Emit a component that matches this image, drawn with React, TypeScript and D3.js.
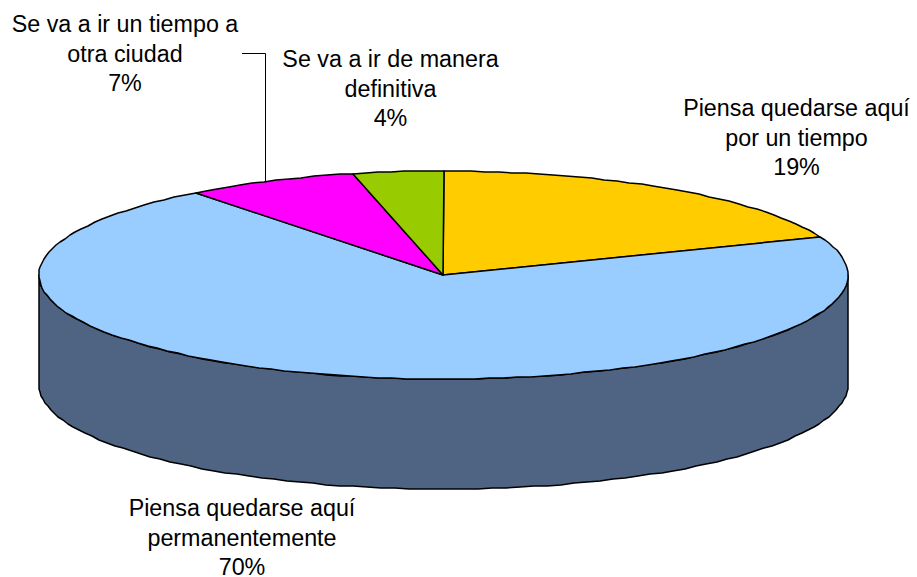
import React from "react";
import * as d3 from "d3";

const categories = [
  "Piensa quedarse aquí por un tiempo",
  "Piensa quedarse aquí permanentemente",
  "Se va a ir un tiempo a otra ciudad",
  "Se va a ir de manera definitiva",
];
const values = [19, 70.5, 6.9, 3.6];
const colors = ["#FFCC00", "#99CCFF", "#FF00FF", "#99CC00"];
const labelLines = [
  ["Piensa quedarse aquí", "por un tiempo", "19%"],
  ["Piensa quedarse aquí", "permanentemente", "70%"],
  ["Se va a ir un tiempo a", "otra ciudad", "7%"],
  ["Se va a ir de manera", "definitiva", "4%"],
];
const labelAnchors = [
  { x: 796.5, y: 116 },
  { x: 242, y: 516 },
  { x: 125, y: 32 },
  { x: 390.5, y: 67 },
];

const CX = 443.5, CY = 275, RX = 404.5, RY = 104, DEPTH = 110;

const px = (t: number) => Math.round(CX + RX * Math.sin(t));
const py = (t: number, dy = 0) => Math.round(CY - RY * Math.cos(t) + dy);

function samples(a0: number, a1: number) {
  const n = Math.max(2, Math.ceil((Math.abs(a1 - a0) * RX) / 14));
  return d3.range(n + 1).map((i) => a0 + ((a1 - a0) * i) / n);
}

export default function App() {
  const arcs = d3.pie<number>().sort(null).value((d) => d)(values);
  const line = d3.line<[number, number]>();

  const wallTop = samples(Math.PI / 2, (3 * Math.PI) / 2).map((t) => [px(t), py(t)] as [number, number]);
  const wallBottom = samples((3 * Math.PI) / 2, Math.PI / 2).map((t) => [px(t), py(t, DEPTH)] as [number, number]);
  const wall = line([...wallTop, ...wallBottom]) + "Z";

  return (
    <svg
      width={917}
      height={577}
      viewBox="0 0 917 577"
      style={{ position: "absolute", left: 0, top: 0, background: "#fff" }}
    >
      <path d={wall} fill="#4F6482" stroke="#000" strokeWidth={1.5} strokeLinejoin="round" />
      {arcs.map((a, i) => {
        const pts = samples(a.startAngle, a.endAngle).map((t) => [px(t), py(t)] as [number, number]);
        const d = line([[CX - 0.5, CY], ...pts]) + "Z";
        return <path key={categories[i]} d={d} fill={colors[i]} stroke="#000" strokeWidth={1.5} strokeLinejoin="round" />;
      })}
      <path d="M242,53.5H265.5V181" fill="none" stroke="#000" strokeWidth={1} />
      {labelLines.map((lines, i) => (
        <text
          key={categories[i]}
          textAnchor="middle"
          fontFamily="'Liberation Sans', Arial, sans-serif"
          fontSize={23.3}
          fill="#000"
        >
          {lines.map((l, j) => (
            <tspan key={j} x={labelAnchors[i].x} y={labelAnchors[i].y + j * 29.7}>
              {l}
            </tspan>
          ))}
        </text>
      ))}
    </svg>
  );
}
